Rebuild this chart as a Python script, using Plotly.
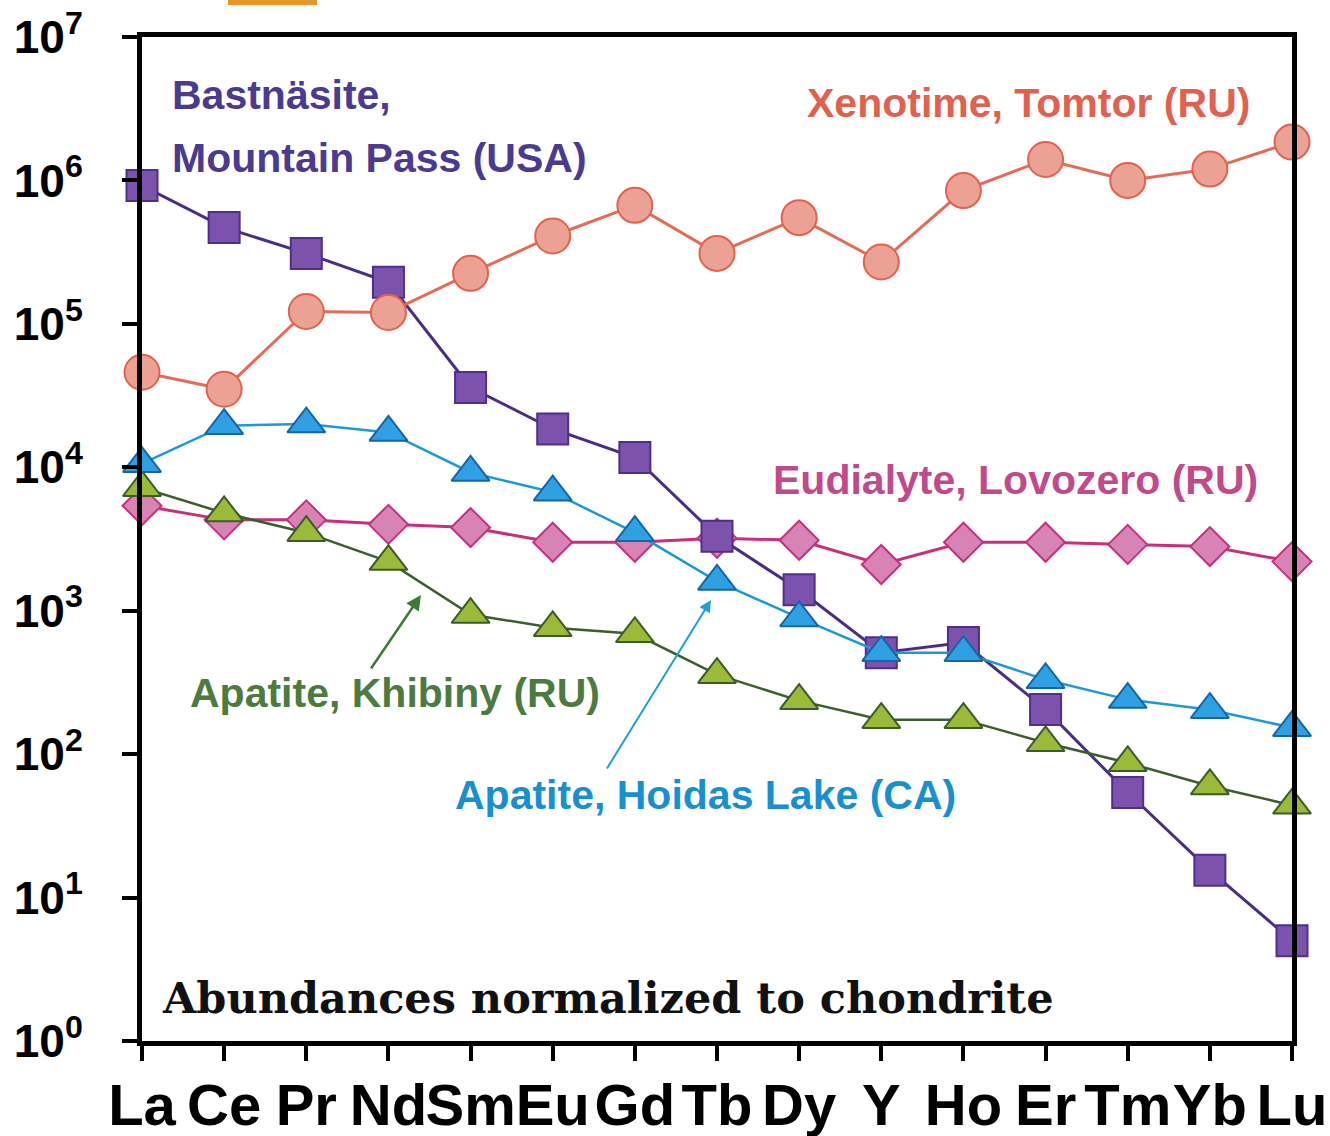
import plotly.graph_objects as go

elements = ["La", "Ce", "Pr", "Nd", "Sm", "Eu", "Gd", "Tb", "Dy", "Y", "Ho", "Er", "Tm", "Yb", "Lu"]

bastnasite = [9.2e5, 4.7e5, 3.1e5, 1.95e5, 3.6e4, 1.85e4, 1.17e4, 3.3e3, 1.4e3, 510, 600, 205, 54, 15.5, 5.0]
xenotime = [4.6e4, 3.5e4, 1.22e5, 1.2e5, 2.25e5, 4.1e5, 6.7e5, 3.1e5, 5.5e5, 2.7e5, 8.5e5, 1.4e6, 1.0e6, 1.2e6, 1.85e6]
eudialyte = [5.4e3, 4.3e3, 4.3e3, 4.0e3, 3.8e3, 3.0e3, 3.0e3, 3.2e3, 3.1e3, 2.1e3, 3.0e3, 3.0e3, 2.9e3, 2.8e3, 2.2e3]
hoidas = [1.06e4, 1.95e4, 2.0e4, 1.75e4, 9.2e3, 6.7e3, 3.5e3, 1.6e3, 890, 510, 510, 330, 240, 204, 153]
khibiny = [7.2e3, 4.8e3, 3.5e3, 2.2e3, 940, 760, 690, 358, 236, 174, 174, 120, 87, 60, 44]

y_tickvals = [1, 10, 100, 1000, 1e4, 1e5, 1e6, 1e7]
y_ticktext = ["10<sup>%d</sup>" % i for i in range(8)]

xi = list(range(len(elements)))

fig = go.Figure()

def add(vals, symbol, size, fill, edge, line, lw):
    fig.add_trace(go.Scatter(
        x=xi, y=vals, mode="lines+markers", cliponaxis=False,
        line=dict(color=line, width=lw),
        marker=dict(symbol=symbol, size=size, color=fill, line=dict(color=edge, width=2)),
        showlegend=False,
    ))

add(eudialyte, "diamond", 30, "#d883b5", "#c5307f", "#c8307c", 3)
add(bastnasite, "square", 31, "#7c52ad", "#4e2f8c", "#4a2e85", 3)
add(xenotime, "circle", 35, "#eba193", "#e2624f", "#e66a58", 3)
add(khibiny, "triangle-up", 33, "#9cba3a", "#3a5c28", "#3c5e2e", 2.5)
add(hoidas, "triangle-up", 33, "#2fa0e2", "#1566a8", "#1c9ad6", 2.5)

L, R, T, B = 142, 1292, 37, 1041
W, H = R - L, B - T

def px(x):
    return (x - L) / W

def py(y):
    return (B - y) / H

lab = dict(family="Liberation Sans, Arial, sans-serif", size=41, weight="bold")

annots = [
    dict(text="Bastnäsite,", x=px(170), y=py(95), xanchor="left", color="#4a3a92"),
    dict(text="Mountain Pass (USA)", x=px(170), y=py(158), xanchor="left", color="#4a3a92"),
    dict(text="Xenotime, Tomtor (RU)", x=px(1252), y=py(103), xanchor="right", color="#e0624e"),
    dict(text="Eudialyte, Lovozero (RU)", x=px(1260), y=py(480), xanchor="right", color="#c04a8c"),
    dict(text="Apatite, Khibiny (RU)", x=px(188), y=py(693), xanchor="left", color="#4d7a3e"),
    dict(text="Apatite, Hoidas Lake (CA)", x=px(453), y=py(795), xanchor="left", color="#1a8fd0"),
]
annotations = []
for a in annots:
    annotations.append(dict(
        text=a["text"], x=a["x"], y=a["y"], xref="paper", yref="paper",
        xanchor=a["xanchor"], yanchor="middle", showarrow=False,
        font=dict(lab, color=a["color"]),
    ))

annotations.append(dict(
    text="Abundances normalized to chondrite", x=px(160), y=py(998), xref="paper", yref="paper",
    xanchor="left", yanchor="middle", showarrow=False,
    font=dict(family="DejaVu Serif, serif", size=43, weight="bold", color="#111111"),
))

# arrows
annotations.append(dict(
    text="", x=px(421), y=py(595), xref="paper", yref="paper",
    showarrow=True, ax=370 - 421, ay=670 - 595, arrowhead=2, arrowsize=1.2,
    arrowwidth=2.5, arrowcolor="#3d7a3a",
))
annotations.append(dict(
    text="", x=px(711), y=py(600), xref="paper", yref="paper",
    showarrow=True, ax=606 - 711, ay=770 - 600, arrowhead=2, arrowsize=1.2,
    arrowwidth=2, arrowcolor="#1f9fd4",
))

fig.update_layout(
    width=1330, height=1136,
    margin=dict(l=L, r=1330 - R, t=T, b=1136 - B, autoexpand=False),
    paper_bgcolor="white", plot_bgcolor="white",
    annotations=annotations,
    shapes=[dict(type="rect", xref="paper", yref="paper",
                 x0=px(228), x1=px(317), y0=py(5), y1=py(-5),
                 fillcolor="#e8952a", line=dict(width=0))],
    xaxis=dict(
        range=[0, 14], tickvals=xi, ticktext=elements, tickangle=0,
        showline=True, linecolor="black", linewidth=5, mirror=True,
        ticks="outside", ticklen=15, tickwidth=4, tickcolor="black",
        showgrid=False, zeroline=False, automargin=False, ticklabelstandoff=-6,
        tickfont=dict(family="Liberation Sans, Arial, sans-serif", size=58, weight="bold", color="black"),
    ),
    yaxis=dict(
        type="log", range=[0, 7], tickvals=y_tickvals, ticktext=y_ticktext,
        showline=True, linecolor="black", linewidth=5, mirror=True,
        ticks="outside", ticklen=15, tickwidth=4, tickcolor="black",
        showgrid=False, zeroline=False, ticklabelstandoff=30, automargin=False,
        tickfont=dict(family="Liberation Sans, Arial, sans-serif", size=46, weight="bold", color="black"),
    ),
)

fig.write_html("out.html")
